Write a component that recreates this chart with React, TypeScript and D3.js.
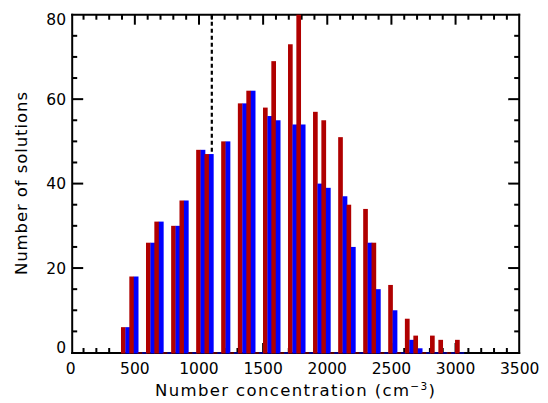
import React from "react";
import * as d3 from "d3";

// Histogram bin lower edges (cm^-3)
const BIN_EDGES = [
  392, 457, 522, 587, 652, 718, 783, 848, 913, 978, 1043, 1108, 1173, 1238,
  1303, 1369, 1434, 1499, 1564, 1629, 1694, 1759, 1824, 1889, 1954, 2020,
  2085, 2150, 2215, 2280, 2345, 2410, 2475, 2540, 2605, 2671, 2736, 2801,
  2866, 2931, 2996, 3061,
];

// Counts per bin, red series
const RED_COUNTS = [
  6, 18, 0, 26, 31, 0, 30, 36, 0, 48, 47, 0, 50, 0, 59, 62, 0, 58, 69, 0, 73,
  80, 0, 57, 55, 0, 51, 35, 0, 34, 26, 0, 16, 0, 8, 4, 0, 4, 3, 0, 3,
];

// Counts per bin, blue series
const BLUE_COUNTS = [
  6, 18, 0, 26, 31, 0, 30, 36, 0, 48, 47, 0, 50, 0, 59, 62, 0, 56, 55, 0, 54,
  54, 0, 40, 39, 0, 37, 25, 0, 26, 15, 0, 10, 0, 3, 1, 0, 0, 0, 0, 0,
];

const X_TICKS = [0, 500, 1000, 1500, 2000, 2500, 3000, 3500];
const Y_TICKS = [0, 20, 40, 60, 80];
const MARKER_X = 1100;

const W = 548;
const H = 403;
const RED = "#b00000";
const BLUE = "#0000ff";
const FONT = "'DejaVu Sans', sans-serif";

export default function App() {
  const x = d3.scaleLinear().domain([0, 3500]).range([70.7, 519.7]);
  const y = d3.scaleLinear().domain([0, 80]).range([352.5, 14.7]);

  const left = 72.2;
  const right = 519.2;
  const top = 14.7;
  const bottom = 353;

  const xMinor = d3.range(0, 3501, 100);
  const yMinor = d3.range(0, 81, 5);

  const bars: JSX.Element[] = [];
  RED_COUNTS.forEach((rv, i) => {
    const x0 = x(BIN_EDGES[i]);
    const p = x(BIN_EDGES[i + 1]) - x0;
    const bv = BLUE_COUNTS[i];
    const base = y(0) + 1;
    bars.push(
      <rect
        key={`r${i}`}
        x={x0}
        y={y(rv)}
        width={p * 0.56}
        height={Math.max(1, base - y(rv))}
        fill={RED}
      />
    );
    bars.push(
      <rect
        key={`b${i}`}
        x={x0 + p * 0.53}
        y={y(bv)}
        width={p * 0.57}
        height={Math.max(1, base - y(bv))}
        fill={BLUE}
      />
    );
  });

  return (
    <svg
      width={W}
      height={H}
      style={{ position: "absolute", left: 0, top: 0, background: "#fff" }}
      fontFamily={FONT}
    >
      <rect x={0} y={0} width={W} height={H} fill="#fff" />

      {/* dashed reference line */}
      <line
        x1={x(MARKER_X)}
        x2={x(MARKER_X)}
        y1={y(80)}
        y2={y(0)}
        stroke="#000"
        strokeWidth={2.2}
        strokeDasharray="4,3"
      />

      {/* frame */}
      <g stroke="#000" strokeWidth={2} fill="none">
        <line x1={left} x2={left} y1={top - 1} y2={bottom + 1} />
        <line x1={right} x2={right} y1={top - 1} y2={bottom + 1} />
        <line x1={left - 1} x2={right + 1} y1={top} y2={top} />
        <line x1={left - 1} x2={right + 1} y1={bottom} y2={bottom} />
      </g>

      {/* ticks */}
      <g stroke="#000" strokeWidth={2}>
        {xMinor.map((v) => {
          const major = v % 500 === 0;
          const len = major ? 10 : 5;
          if (v === 0 || v === 3500) return null;
          return (
            <g key={`xt${v}`}>
              <line x1={x(v)} x2={x(v)} y1={bottom} y2={bottom - len} />
              <line x1={x(v)} x2={x(v)} y1={top} y2={top + len} />
            </g>
          );
        })}
        {yMinor.map((v) => {
          const major = v % 20 === 0;
          const len = major ? 11 : 5;
          if (v === 0 || v === 80) return null;
          return (
            <g key={`yt${v}`}>
              <line x1={left} x2={left + len} y1={y(v)} y2={y(v)} />
              <line x1={right} x2={right - len} y1={y(v)} y2={y(v)} />
            </g>
          );
        })}
      </g>

      {bars}

      {/* tick labels */}
      <g fontSize={15.5} fill="#000">
        {X_TICKS.map((v) => (
          <text key={`xl${v}`} x={x(v)} y={374} textAnchor="middle">
            {v}
          </text>
        ))}
        {Y_TICKS.map((v) => (
          <text
            key={`yl${v}`}
            x={66}
            y={Math.min(347, Math.max(19.5, y(v)))}
            dy="0.36em"
            textAnchor="end"
          >
            {v}
          </text>
        ))}
      </g>

      {/* axis titles */}
      <text
        x={155}
        y={396}
        fontSize={16.5}
        textAnchor="start"
        fill="#000"
        textLength={280}
        lengthAdjust="spacing"
      >
        Number concentration (cm
        <tspan dy={-6} fontSize={10.5}>
          −3
        </tspan>
        <tspan dy={6}>)</tspan>
      </text>
      <text
        transform="translate(27,275) rotate(-90)"
        fontSize={16.5}
        textAnchor="start"
        fill="#000"
        textLength={183}
        lengthAdjust="spacing"
      >
        Number of solutions
      </text>
    </svg>
  );
}
